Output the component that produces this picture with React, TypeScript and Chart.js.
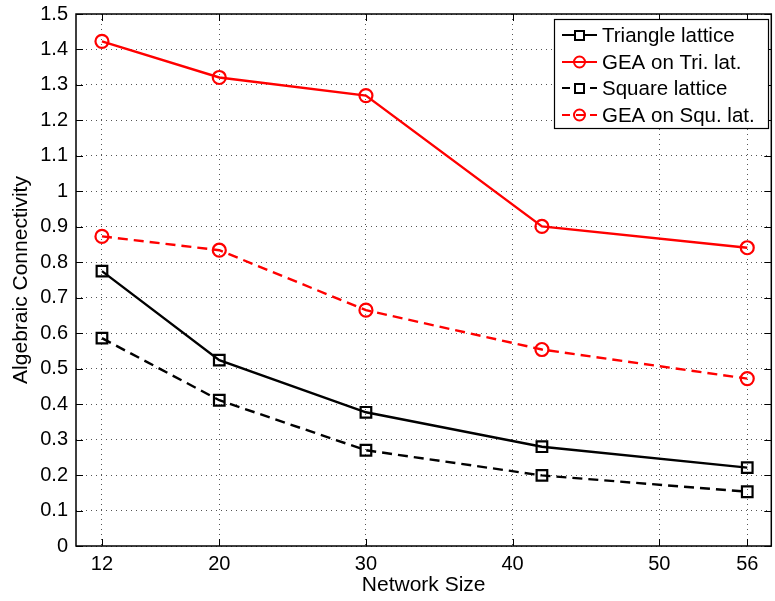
import React, { useEffect, useRef } from "react";
import { Chart, registerables } from "chart.js";

Chart.register(...registerables);

const networkSizes = [12, 20, 30, 42, 56];
const triangleLattice = [0.775, 0.524, 0.377, 0.28, 0.221];
const geaOnTri = [1.423, 1.321, 1.27, 0.901, 0.841];
const squareLattice = [0.586, 0.411, 0.27, 0.199, 0.153];
const geaOnSqu = [0.873, 0.834, 0.665, 0.554, 0.472];
const xTicks = [12, 20, 30, 40, 50, 56];
const seriesLabels = ["Triangle lattice", "GEA on Tri. lat.", "Square lattice", "GEA on Squ. lat."];

const FONT = "'Liberation Sans', Arial, Helvetica, sans-serif";

const boxPlugin = {
  id: "matlabBox",
  afterDraw(chart: any) {
    const { ctx, chartArea: a, scales } = chart;
    ctx.save();
    ctx.strokeStyle = "#000";
    ctx.lineWidth = 1;
    const tl = 7;
    ctx.beginPath();
    scales.y.ticks.forEach((t: any) => {
      const y = Math.round(scales.y.getPixelForValue(t.value)) + 0.5;
      ctx.moveTo(a.left, y);
      ctx.lineTo(a.left + tl, y);
      ctx.moveTo(a.right, y);
      ctx.lineTo(a.right - tl, y);
    });
    scales.x.ticks.forEach((t: any) => {
      const x = Math.round(scales.x.getPixelForValue(t.value)) + 0.5;
      ctx.moveTo(x, a.bottom);
      ctx.lineTo(x, a.bottom - tl);
      ctx.moveTo(x, a.top);
      ctx.lineTo(x, a.top + tl);
    });
    ctx.stroke();
    ctx.lineWidth = 1.5;
    ctx.strokeRect(a.left, a.top, a.right - a.left, a.bottom - a.top);

    const lx = 554, ly = 19, lw = 214, lh = 109;
    ctx.fillStyle = "#fff";
    ctx.fillRect(lx, ly, lw, lh);
    ctx.lineWidth = 1.2;
    ctx.strokeStyle = "#000";
    ctx.strokeRect(lx + 0.5, ly + 0.5, lw, lh);
    const rows = [35, 62, 88, 115];
    chart.data.datasets.forEach((ds: any, i: number) => {
      const y = rows[i];
      ctx.save();
      ctx.strokeStyle = ds.borderColor;
      ctx.lineWidth = 2.2;
      ctx.setLineDash(ds.borderDash && ds.borderDash.length ? [8, 6] : []);
      ctx.beginPath();
      ctx.moveTo(562, y);
      ctx.lineTo(597, y);
      ctx.stroke();
      ctx.setLineDash([]);
      ctx.lineWidth = 2;
      if (ds.pointStyle === "rect") {
        ctx.fillStyle = "#fff";
        ctx.fillRect(575, y - 4, 9, 9);
        ctx.strokeRect(575, y - 4, 9, 9);
      } else {
        ctx.beginPath();
        ctx.arc(579.5, y, 5.5, 0, Math.PI * 2);
        ctx.stroke();
      }
      ctx.restore();
      ctx.fillStyle = "#000";
      ctx.font = `20.5px ${FONT}`;
      ctx.textBaseline = "middle";
      ctx.textAlign = "left";
      ctx.fillText(ds.label, 602, y + 1);
    });
    ctx.restore();
  },
};

export default function App() {
  const ref = useRef<HTMLCanvasElement>(null);
  useEffect(() => {
    document.body.style.margin = "0";
    const mk = (label: string, data: number[], color: string, dashed: boolean, style: string) => ({
      label,
      data: networkSizes.map((x, i) => ({ x, y: data[i] })),
      borderColor: color,
      backgroundColor: "transparent",
      borderWidth: 2.4,
      borderDash: dashed ? [10, 6] : [],
      pointStyle: style,
      pointRadius: style === "rect" ? 7.5 : 6.5,
      pointBorderWidth: 2.2,
      pointBorderColor: color,
      pointBackgroundColor: "transparent",
      tension: 0,
    });
    const chart = new Chart(ref.current!, {
      type: "line",
      data: {
        datasets: [
          mk(seriesLabels[0], triangleLattice, "#000", false, "rect"),
          mk(seriesLabels[1], geaOnTri, "#ff0000", false, "circle"),
          mk(seriesLabels[2], squareLattice, "#000", true, "rect"),
          mk(seriesLabels[3], geaOnSqu, "#ff0000", true, "circle"),
        ] as any,
      },
      options: {
        animation: false,
        responsive: false,
        maintainAspectRatio: false,
        layout: { padding: { left: 0, top: 14, right: 0, bottom: 0 } },
        plugins: { legend: { display: false }, tooltip: { enabled: false } },
        scales: {
          x: {
            type: "linear",
            min: 10.23,
            max: 57.64,
            afterBuildTicks: (s: any) => {
              s.ticks = xTicks.map((v) => ({ value: v }));
            },
            afterFit: (s: any) => {
              s.height = 55;
              s.paddingLeft = 0;
              s.paddingRight = 0;
            },
            ticks: {
              color: "#000",
              font: { family: FONT, size: 20, lineHeight: 1.2 },
              padding: 6,
              maxRotation: 0,
              autoSkip: false,
              callback: (v: any) => String(v),
            },
            grid: { color: "#555", drawTicks: false, lineWidth: 1 },
            border: { display: false, dash: [1, 4] },
            title: {
              display: true,
              text: "Network Size",
              color: "#000",
              font: { family: FONT, size: 21 },
              padding: { top: 3, bottom: 3 },
            },
          },
          y: {
            type: "linear",
            min: 0,
            max: 1.5,
            afterFit: (s: any) => {
              s.width = 76;
              s.paddingTop = 0;
              s.paddingBottom = 0;
            },
            ticks: {
              stepSize: 0.1,
              color: "#000",
              font: { family: FONT, size: 20, lineHeight: 1.0 },
              padding: 8,
              callback: (v: any) => String(parseFloat(Number(v).toFixed(1))),
            },
            grid: { color: "#555", drawTicks: false, lineWidth: 1 },
            border: { display: false, dash: [1, 4] },
            title: {
              display: true,
              text: "Algebraic Connectivity",
              color: "#000",
              font: { family: FONT, size: 21 },
              padding: { top: 9, bottom: 9 },
            },
          },
        },
      },
      plugins: [boxPlugin],
    });
    const diff = 771 - chart.chartArea.right;
    if (Math.abs(diff) > 0.5) {
      chart.resize(Math.round(775 + diff), 601);
    }
    return () => chart.destroy();
  }, []);
  return (
    <div style={{ position: "absolute", left: 0, top: 0, width: 775, height: 601, overflow: "hidden" }}>
      <canvas ref={ref} width={775} height={601} style={{ width: 775, height: 601 }} />
    </div>
  );
}
